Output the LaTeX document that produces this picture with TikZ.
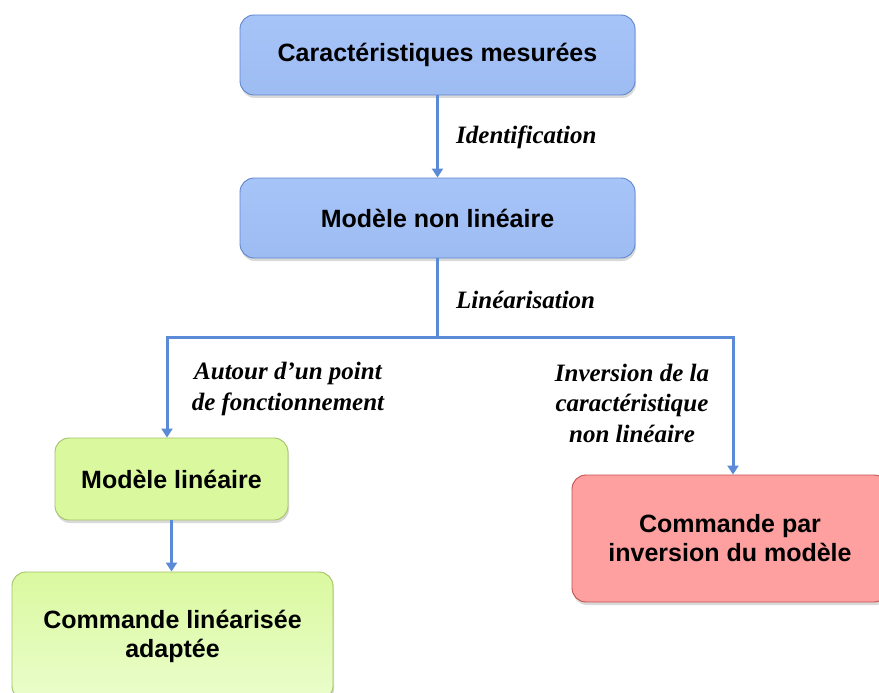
\documentclass[tikz,border=0pt]{standalone}
\usepackage{fontspec}
\setmainfont{Liberation Sans}
\newfontfamily\labfont{Liberation Serif}
\usetikzlibrary{arrows.meta,shadows}
\definecolor{arrowblue}{HTML}{5B8BD6}
\definecolor{bluefill}{HTML}{A7C4F8}
\definecolor{bluefillb}{HTML}{9DBCF2}
\definecolor{blueline}{HTML}{5F86CC}
\definecolor{greenfill}{HTML}{DAF99F}
\definecolor{greenfillb}{HTML}{EAFDCB}
\definecolor{greenline}{HTML}{A3C165}
\definecolor{redfill}{HTML}{FFA0A0}
\definecolor{redline}{HTML}{C4504E}
\tikzset{
  boxbase/.style={rounded corners=14pt, line width=0.9pt, align=center,
    font=\fontsize{25}{29}\selectfont\bfseries, text=black,
    drop shadow={shadow xshift=1pt, shadow yshift=-3pt, opacity=0.3}},
  bluebox/.style={boxbase, draw=blueline, top color=bluefill, bottom color=bluefillb},
  greenbox/.style={boxbase, draw=greenline, fill=greenfill},
  redbox/.style={boxbase, draw=redline, fill=redfill},
  conn/.style={draw=arrowblue, line width=3pt},
  arr/.style={conn, -{Triangle[width=11pt,length=9pt]}},
  lab/.style={font=\labfont\fontsize{25}{30.5}\selectfont\bfseries\itshape, align=center, inner sep=0pt}
}
\begin{document}
\begin{tikzpicture}[x=1pt,y=-1pt]
\useasboundingbox (0,0) rectangle (879,693);
\clip (0,0) rectangle (879,693);
\node[bluebox, minimum width=395pt, minimum height=80pt] (top) at (437.5,55) {Caractéristiques mesurées};
\node[bluebox, minimum width=395pt, minimum height=80pt] (mid) at (437.5,218) {Modèle non linéaire};
\node[greenbox, minimum width=233pt, minimum height=82pt] (g1) at (171.5,479) {Modèle linéaire};
\node[boxbase, draw=greenline, top color=greenfill, bottom color=greenfillb, minimum width=321pt, minimum height=128pt] (g2) at (172.5,636) {Commande linéarisée\\adaptée};
\node[redbox, minimum width=316pt, minimum height=127pt] (red) at (730,538.5) {Commande par\\inversion du modèle};
\coordinate (jc) at (437.5,337);
\coordinate (jl) at (167,337);
\coordinate (jr) at (733,337);
\draw[arr] (top.south) -- (mid.north);
\draw[conn] (mid.south) -- (jc);
\draw[conn, line cap=rect] (jl) -- (jr);
\draw[arr] (jl) -- (jl |- g1.north);
\draw[arr] (jr) -- (jr |- red.north);
\draw[arr] (g1.south) -- (g1.south |- g2.north);
\node[lab, anchor=west] (lid) at (456,137) {Identification};
\node[lab, anchor=west] (llin) at (456,300) {Linéarisation};
\node[lab] (lleft) at (288,389) {Autour d’un point\\de fonctionnement};
\node[lab] (lright) at (632,403) {Inversion de la\\caractéristique\\non linéaire};
\end{tikzpicture}
\end{document}
